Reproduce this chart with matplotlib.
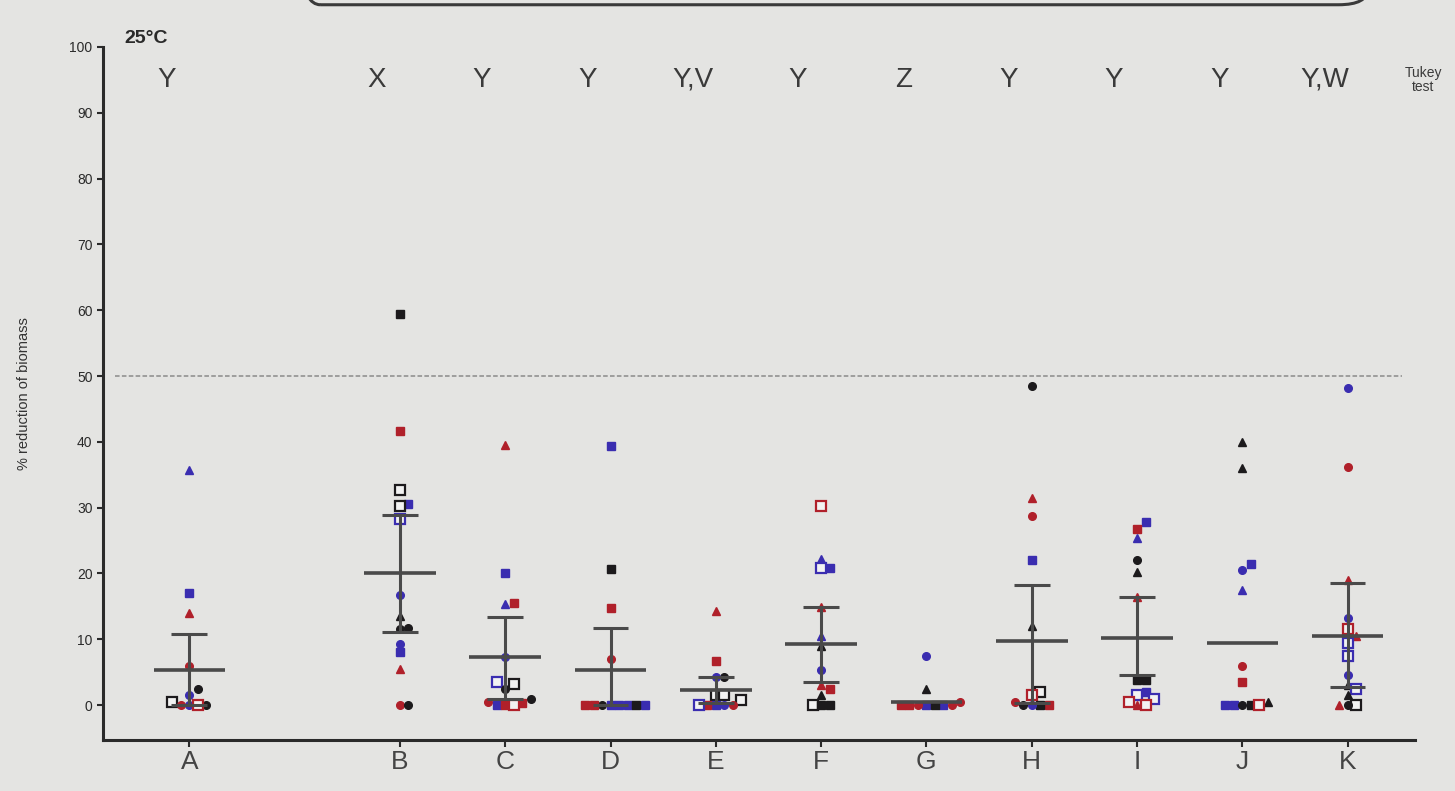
import matplotlib
matplotlib.use("Agg")
import matplotlib.pyplot as plt
from matplotlib.patches import FancyBboxPatch
import numpy as np

plt.rcParams['font.family'] = ['Liberation Sans', 'DejaVu Sans']

# ---------------- data ----------------
categories = ['A', 'B', 'C', 'D', 'E', 'F', 'G', 'H', 'I', 'J', 'K']
tukey = ['Y', 'X', 'Y', 'Y', 'Y,V', 'Y', 'Z', 'Y', 'Y', 'Y', 'Y,W']

vals_A = [35.7, 17.0, 14.0, 6.0, 2.5, 1.5, 0.5, 0.0, 0.0, 0.0, 0.0]
mk_A = ['^', 's', '^', 'o', 'o', 'o', 'S', 'o', 'o', 'o', 'S']
col_A = ['b', 'b', 'r', 'r', 'k', 'b', 'k', 'b', 'k', 'r', 'r']

vals_B = [59.5, 41.6, 32.7, 30.6, 30.2, 28.3, 16.7, 13.5, 11.7, 11.5, 9.3, 8.0, 5.5, 0.0, 0.0]
mk_B = ['s', 's', 'S', 's', 'S', 'S', 'o', '^', 'o', 'o', 'o', 's', '^', 'o', 'o']
col_B = ['k', 'r', 'k', 'b', 'k', 'b', 'b', 'k', 'k', 'k', 'b', 'b', 'r', 'r', 'k']

vals_C = [39.5, 20.0, 15.5, 15.3, 7.3, 3.5, 3.2, 2.5, 1.0, 0.5, 0.3, 0.0, 0.0, 0.0]
mk_C = ['^', 's', 's', '^', 'o', 'S', 'S', 'o', 'o', 'o', 's', 's', 's', 'S']
col_C = ['r', 'b', 'r', 'b', 'b', 'b', 'k', 'k', 'k', 'r', 'r', 'b', 'r', 'r']

vals_D = [39.3, 20.7, 14.7, 7.0, 0.0, 0.0, 0.0, 0.0, 0.0, 0.0, 0.0, 0.0]
mk_D = ['s', 's', 's', 'o', 's', 'o', 's', 's', 's', 's', 's', 's']
col_D = ['b', 'k', 'r', 'r', 'b', 'k', 'b', 'b', 'b', 'r', 'k', 'r']

vals_E = [14.3, 6.7, 4.3, 4.3, 1.5, 1.5, 0.8, 0.0, 0.0, 0.0, 0.0, 0.0]
mk_E = ['^', 's', 'o', 'o', 'S', 'S', 'S', 's', 'o', 's', 'o', 'S']
col_E = ['r', 'r', 'k', 'b', 'k', 'k', 'k', 'b', 'r', 'r', 'b', 'b']

vals_F = [30.2, 22.2, 20.8, 20.8, 14.9, 10.5, 9.0, 5.3, 3.0, 2.5, 1.5, 0.0, 0.0, 0.0]
mk_F = ['S', '^', 's', 'S', '^', '^', '^', 'o', '^', 's', '^', 'S', 's', 's']
col_F = ['r', 'b', 'b', 'b', 'r', 'b', 'k', 'b', 'r', 'r', 'k', 'k', 'k', 'k']

vals_G = [7.4, 2.5, 0.5, 0.0, 0.0, 0.0, 0.0, 0.0, 0.0, 0.0]
mk_G = ['o', '^', 'o', 's', 's', 'o', 's', 's', 'o', 's']
col_G = ['b', 'k', 'r', 'b', 'b', 'r', 'k', 'r', 'r', 'r']

vals_H = [48.5, 31.5, 28.7, 22.0, 12.0, 2.0, 1.5, 0.5, 0.0, 0.0, 0.0, 0.0]
mk_H = ['o', '^', 'o', 's', '^', 'S', 'S', 'o', 's', 'o', 's', 'o']
col_H = ['k', 'r', 'r', 'b', 'k', 'k', 'r', 'r', 'r', 'k', 'k', 'b']

vals_I = [27.8, 26.7, 25.4, 22.0, 20.2, 16.5, 3.8, 3.8, 2.0, 1.5, 1.0, 0.5, 0.0, 0.0]
mk_I = ['s', 's', '^', 'o', '^', '^', 's', 's', 's', 'S', 'S', 'S', '^', 'S']
col_I = ['b', 'r', 'b', 'k', 'k', 'r', 'k', 'k', 'b', 'b', 'b', 'r', 'r', 'r']

vals_J = [40.0, 36.0, 21.5, 20.5, 17.5, 6.0, 3.5, 0.5, 0.0, 0.0, 0.0, 0.0, 0.0]
mk_J = ['^', '^', 's', 'o', '^', 'o', 's', '^', 's', 's', 's', 'o', 'S']
col_J = ['k', 'k', 'b', 'b', 'b', 'r', 'r', 'k', 'b', 'b', 'k', 'k', 'r']

vals_K = [48.2, 36.2, 19.0, 13.2, 11.5, 10.5, 9.5, 7.5, 4.5, 3.0, 2.5, 1.5, 0.0, 0.0, 0.0]
mk_K = ['o', 'o', '^', 'o', 'S', '^', 'S', 'S', 'o', '^', 'S', '^', 'S', '^', 'o']
col_K = ['b', 'r', 'r', 'b', 'r', 'r', 'b', 'b', 'b', 'k', 'b', 'k', 'k', 'r', 'k']

means = [5.4, 20.1, 7.3, 5.3, 2.3, 9.3, 0.5, 9.7, 10.2, 9.4, 10.5]
err_hi = [10.8, 28.9, 13.4, 11.7, 4.3, 14.9, np.nan, 18.3, 16.5, np.nan, 18.5]
err_lo = [0.0, 11.1, 0.9, 0.0, 0.3, 3.5, np.nan, 0.3, 4.6, np.nan, 2.7]

threshold = 50

# ---------------- styling ----------------
bg = '#e4e4e2'
cmap = {'k': '#1c1a1c', 'r': '#b0202a', 'b': '#3a2db0'}
xpos = [0] + list(range(2, 12))

groups = [(vals_A, mk_A, col_A), (vals_B, mk_B, col_B), (vals_C, mk_C, col_C),
          (vals_D, mk_D, col_D), (vals_E, mk_E, col_E), (vals_F, mk_F, col_F),
          (vals_G, mk_G, col_G), (vals_H, mk_H, col_H), (vals_I, mk_I, col_I),
          (vals_J, mk_J, col_J), (vals_K, mk_K, col_K)]

fig = plt.figure(figsize=(14.55, 7.91), dpi=100, facecolor=bg)
ax = fig.add_axes([0.0708, 0.0645, 0.9017, 0.8761])
ax.set_facecolor(bg)
ax.set_xlim(-0.82, 11.64)
ax.set_ylim(-5.3, 100)

# pixel scales for the swarm layout
sx = 1312 / (11.64 + 0.82)
sy = 693 / 105.3
diam = 8.5


def swarm(values):
    order = np.argsort(values)
    placed = []
    offs = [0.0] * len(values)
    for i in order:
        y = values[i] * sy
        k = 0
        while True:
            cands = [0.0] if k == 0 else [k * diam, -k * diam]
            ok = None
            for c in cands:
                if all((c - px) ** 2 + (y - py) ** 2 >= diam ** 2 for px, py in placed):
                    ok = c
                    break
            if ok is not None:
                placed.append((ok, y))
                offs[i] = ok / sx
                break
            k += 1
    return offs


ax.axhline(threshold, xmin=0.009, xmax=0.99, color='#8a8a8a', lw=1.1,
           linestyle=(0, (3, 1.5)), zorder=1)

for xp, (vals, mks, cols) in zip(xpos, groups):
    offs = swarm(vals)
    for v, m, c, o in zip(vals, mks, cols, offs):
        col = cmap[c]
        if m == 'S':
            ax.plot(xp + o, v, marker='s', ms=7, mfc='#f2f2f2', mec=col, mew=1.6,
                    ls='none', zorder=3)
        elif m == '^':
            ax.plot(xp + o, v, marker='^', ms=6, mfc=col, mec=col, ls='none', zorder=3)
        elif m == 's':
            ax.plot(xp + o, v, marker='s', ms=6, mfc=col, mec=col, ls='none', zorder=3)
        else:
            ax.plot(xp + o, v, marker='o', ms=5.5, mfc=col, mec=col, ls='none', zorder=3)

bar_col = '#4a4a4a'
for xp, m, hi, lo in zip(xpos, means, err_hi, err_lo):
    ax.hlines(m, xp - 0.34, xp + 0.34, color=bar_col, lw=2.6, zorder=4)
    if not np.isnan(hi):
        ax.vlines(xp, lo, hi, color=bar_col, lw=2.2, zorder=4)
        ax.hlines([hi, lo], xp - 0.17, xp + 0.17, color=bar_col, lw=2.2, zorder=4)

# Tukey letters
for xp, t in zip(xpos, tukey):
    ax.text(xp - 0.22, 95.0, t, ha='center', va='center', fontsize=20, color='#3a3a3a')
ax.text(11.72, 95.0, 'Tukey\ntest', ha='center', va='center', fontsize=10,
        color='#3a3a3a', linespacing=1.0)
ax.text(-0.62, 101.3, '25°C', ha='left', va='center', fontsize=14, fontweight='bold',
        color='#2a2a2a', clip_on=False)

# axes styling
for s in ['top', 'right']:
    ax.spines[s].set_visible(False)
for s in ['left', 'bottom']:
    ax.spines[s].set_linewidth(2.2)
    ax.spines[s].set_color('#2a2a2a')
ax.set_yticks(range(0, 101, 10))
ax.tick_params(axis='y', labelsize=10, colors='#2a2a2a', length=4, width=1.5)
ax.set_xticks(xpos)
ax.set_xticklabels(categories)
ax.tick_params(axis='x', labelsize=19, colors='#2a2a2a', length=5, width=1.5, pad=2)
for lab in ax.get_xticklabels():
    lab.set_color('#444444')
ax.set_ylabel('% reduction of biomass', fontsize=10.5, color='#333333', labelpad=28)

# partial frame of a box at the top edge of the photo
box = FancyBboxPatch((0.2, 0.994), 0.74, 0.2, boxstyle='round,pad=0,rounding_size=0.02',
                     transform=fig.transFigure, fill=False, edgecolor='#3a3a3a', lw=2.2,
                     clip_on=False)
fig.patches.append(box)

fig.savefig('out.png', dpi=100, facecolor=bg)
